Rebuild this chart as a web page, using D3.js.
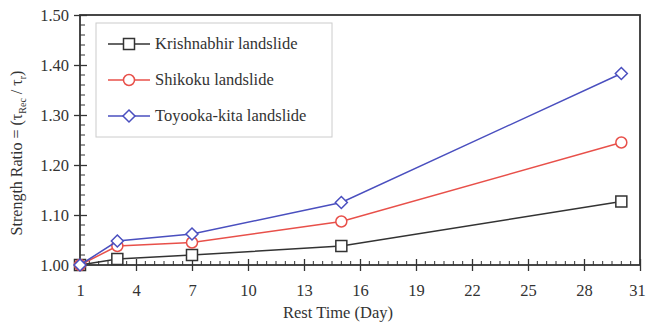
<!DOCTYPE html>
<html><head><meta charset="utf-8">
<script src="https://cdn.jsdelivr.net/npm/d3@7"></script>
<style>body{margin:0;background:#fff}svg{display:block}text{font-family:"Liberation Serif","Times New Roman",serif;fill:#333}</style>
</head><body><svg id="c" width="647" height="328"></svg>
<script>
const days = [1, 3, 7, 15, 30];
const krishnabhir = [1.000, 1.012, 1.020, 1.038, 1.127];
const shikoku = [1.000, 1.038, 1.045, 1.087, 1.245];
const toyooka = [1.000, 1.048, 1.062, 1.125, 1.383];
const seriesNames = ["Krishnabhir landslide", "Shikoku landslide", "Toyooka-kita landslide"];
const xTicks = [1, 4, 7, 10, 13, 16, 19, 22, 25, 28, 31];
const yTicks = [1.00, 1.10, 1.20, 1.30, 1.40, 1.50];

const svg = d3.select("#c");
const L = 80, R = 640, T = 15, B = 265;
const x = d3.scaleLinear().domain([1, 31]).range([L, R]);
const y = d3.scaleLinear().domain([1.0, 1.5]).range([B, T]);
const axisColor = "#333";
const FS = 16.5;

// minor ticks
const xMinor = d3.range(1, 31.01, 0.5).filter(v => !xTicks.includes(v));
const yMinor = d3.range(1.0, 1.501, 0.02).map(v => +v.toFixed(2)).filter(v => !yTicks.some(t => Math.abs(t - v) < 1e-6));
svg.append("g").selectAll("line").data(xMinor).join("line")
  .attr("x1", d => x(d)).attr("x2", d => x(d)).attr("y1", B).attr("y2", B - 4)
  .attr("stroke", axisColor).attr("stroke-width", 1);
svg.append("g").selectAll("line").data(yMinor).join("line")
  .attr("x1", L).attr("x2", L + 5).attr("y1", d => y(d)).attr("y2", d => y(d))
  .attr("stroke", axisColor).attr("stroke-width", 1);

// major axes
const xAxis = d3.axisBottom(x).tickValues(xTicks).tickFormat(d3.format("d")).tickSizeInner(7).tickSizeOuter(0).tickPadding(12);
const gx = svg.append("g").attr("transform", `translate(0,${B})`).call(xAxis);
gx.select(".domain").remove();
gx.selectAll(".tick line").attr("y1", -6).attr("y2", 6).attr("stroke", axisColor).attr("stroke-width", 1.3);
gx.selectAll("text").attr("font-size", FS).style("font-family", '"Liberation Serif",serif').attr("fill", "#333");
gx.selectAll("text").filter(d => d === 31).attr("dx", -3);

const yAxis = d3.axisLeft(y).tickValues(yTicks).tickFormat(d3.format(".2f")).tickSizeInner(7).tickSizeOuter(0).tickPadding(4);
const gy = svg.append("g").attr("transform", `translate(${L},0)`).call(yAxis);
gy.select(".domain").remove();
gy.selectAll(".tick line").attr("x1", -6).attr("x2", 7).attr("stroke", axisColor).attr("stroke-width", 1.3);
gy.selectAll("text").attr("font-size", FS).style("font-family", '"Liberation Serif",serif').attr("fill", "#333");

// frame
svg.append("rect").attr("x", L).attr("y", T).attr("width", R - L).attr("height", B - T)
  .attr("fill", "none").attr("stroke", axisColor).attr("stroke-width", 1.8);

// axis titles
svg.append("text").attr("x", 338).attr("y", 318).attr("text-anchor", "middle")
  .attr("font-size", FS).text("Rest Time (Day)");
const yl = svg.append("text").attr("transform", "translate(22,153) rotate(-90)").attr("text-anchor", "middle").attr("font-size", 16);
yl.append("tspan").text("Strength Ratio = (τ");
yl.append("tspan").attr("font-size", 10).attr("dy", 4).text("Rec");
yl.append("tspan").attr("dy", -4).text(" / τ");
yl.append("tspan").attr("font-size", 10).attr("dy", 4).text("r");
yl.append("tspan").attr("dy", -4).text(")");

const colors = ["#333333", "#e8504a", "#4a4fbf"];
const data = [krishnabhir, shikoku, toyooka];
const shapes = ["square", "circle", "diamond"];

function drawMarker(g, shape, cx, cy, color) {
  if (shape === "square") {
    g.append("rect").attr("x", cx - 5.5).attr("y", cy - 5.5).attr("width", 11).attr("height", 11)
      .attr("fill", "#fff").attr("stroke", color).attr("stroke-width", 1.5);
  } else if (shape === "circle") {
    g.append("circle").attr("cx", cx).attr("cy", cy).attr("r", 5.5)
      .attr("fill", "#fff").attr("stroke", color).attr("stroke-width", 1.5);
  } else {
    const s = 6;
    g.append("path").attr("d", `M${cx},${cy - s}L${cx + s},${cy}L${cx},${cy + s}L${cx - s},${cy}Z`)
      .attr("fill", "#fff").attr("stroke", color).attr("stroke-width", 1.5);
  }
}

const line = d3.line().x((d, i) => x(days[i])).y(d => y(d));
data.forEach((vals, k) => {
  const g = svg.append("g");
  g.append("path").attr("d", line(vals)).attr("fill", "none").attr("stroke", colors[k]).attr("stroke-width", 1.5);
  vals.forEach((v, i) => drawMarker(g, shapes[k], x(days[i]), y(v), colors[k]));
});

// legend
const lg = svg.append("g");
lg.append("rect").attr("x", 96).attr("y", 23).attr("width", 236).attr("height", 114)
  .attr("fill", "#fff").attr("stroke", "#ccc").attr("stroke-width", 1);
seriesNames.forEach((name, k) => {
  const cy = 44 + k * 36;
  lg.append("line").attr("x1", 108).attr("x2", 150).attr("y1", cy).attr("y2", cy).attr("stroke", colors[k]).attr("stroke-width", 1.5);
  drawMarker(lg, shapes[k], 129, cy, colors[k]);
  lg.append("text").attr("x", 155).attr("y", cy + 5).attr("font-size", FS).text(name);
});
</script></body></html>
